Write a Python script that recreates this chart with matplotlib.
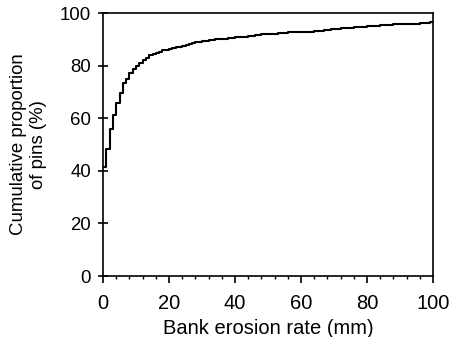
import matplotlib
matplotlib.use("Agg")
import matplotlib.pyplot as plt
from matplotlib.ticker import MultipleLocator

# Step positions (mm) and cumulative proportion of pins (%)
erosion_mm = [0, 1, 2, 3, 4, 5, 6, 7, 8, 9, 10, 11, 12, 13, 14, 15, 16, 17, 18, 19,
              20, 21, 22, 23, 24, 25, 26, 27, 28, 29, 30, 32, 34, 36, 38, 40, 42, 44,
              46, 48, 50, 53, 56, 60, 64, 67, 69, 72, 76, 80, 84, 88, 92, 96, 99, 100]
cum_pct = [41.6, 48.5, 56.1, 61.2, 65.9, 69.7, 73.5, 74.9, 77.1, 78.7, 80.0, 81.2,
           82.1, 83.0, 83.9, 84.5, 85.0, 85.4, 85.8, 86.1,
           86.5, 86.8, 87.0, 87.3, 87.6, 88.0, 88.4, 88.7, 88.9, 89.1, 89.4, 89.7,
           90.0, 90.3, 90.6, 90.8, 91.1, 91.4, 91.7, 92.0, 92.2, 92.5, 92.7, 92.9,
           93.1, 93.4, 93.8, 94.2, 94.7, 95.0, 95.4, 95.7, 95.9, 96.2, 96.5, 96.5]

plt.rcParams['font.family'] = ['Liberation Sans', 'DejaVu Sans']

fig = plt.figure(figsize=(4.5, 3.37), dpi=100)
ax = fig.add_axes([0.229, 0.181, 0.733, 0.780])

ax.step(erosion_mm, cum_pct, where='post', color='black', linewidth=1.5)

ax.set_xlim(0, 100)
ax.set_ylim(0, 100)
ax.set_xticks([0, 20, 40, 60, 80, 100])
ax.set_yticks([0, 20, 40, 60, 80, 100])
ax.xaxis.set_minor_locator(MultipleLocator(4))

for s in ax.spines.values():
    s.set_linewidth(1.2)

ax.tick_params(axis='x', which='major', direction='out', length=5, width=1.2,
               labelsize=14.5, pad=8)
ax.tick_params(axis='x', which='minor', direction='out', length=2.5, width=1.0)
ax.tick_params(axis='y', which='major', direction='inout', length=7, width=1.2,
               labelsize=13.4, pad=5)

ax.set_xlabel('Bank erosion rate (mm)', fontsize=14.5, labelpad=4)
ax.set_ylabel('Cumulative proportion\nof pins (%)', fontsize=13.4, labelpad=9,
              linespacing=1.3)

fig.savefig('out.png', dpi=100)
